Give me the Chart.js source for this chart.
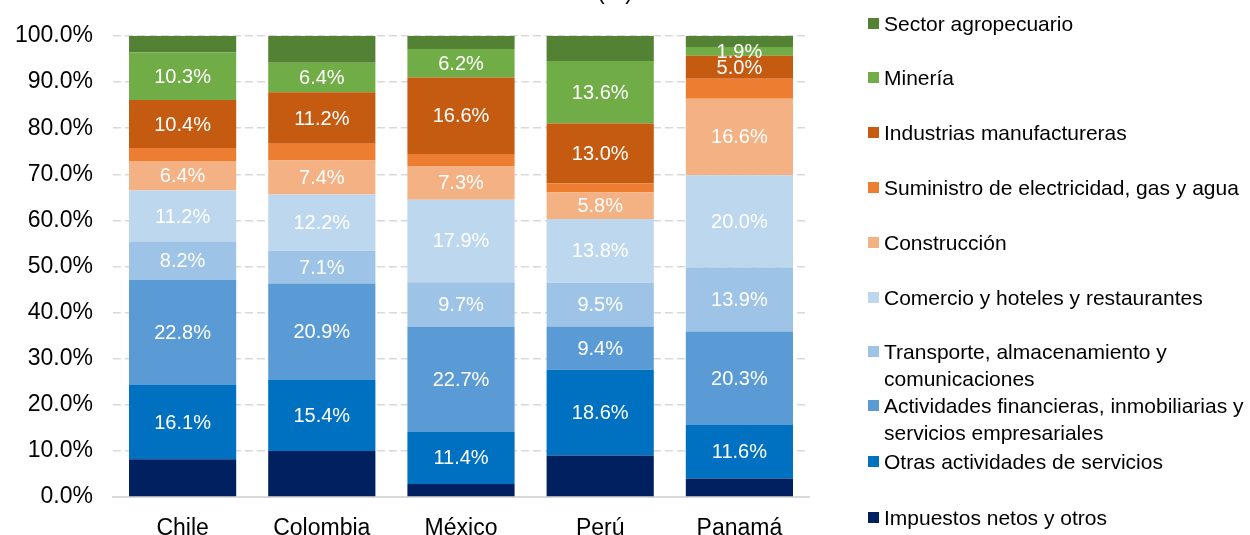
<!DOCTYPE html>
<html>
<head>
<meta charset="utf-8">
<script src="https://cdn.jsdelivr.net/npm/chart.js@4"></script>
<style>
  html, body { margin: 0; padding: 0; background: #fff; }
  #wrap { position: relative; width: 1250px; height: 535px; overflow: hidden; }
  #legend { position: absolute; left: 0; top: 0; }
  .item { position: absolute; left: 868px; font: 21px "Liberation Sans", Arial, sans-serif; color: #000; line-height: 27px; }
  .item .sw { position: absolute; left: 0; width: 11px; height: 11px; top: 8px; }
  .item .tx { position: absolute; left: 16px; white-space: nowrap; }
</style>
</head>
<body>
<div id="wrap">
  <canvas id="chart" width="1250" height="535"></canvas>
  <div id="legend"></div>
</div>
<script>
// Categories and series (share of GDP, %), bottom of the stack first
const categories = ['Chile', 'Colombia', 'México', 'Perú', 'Panamá'];

const impuestos    = [8.2, 10.0, 2.8, 9.0, 4.0];
const otrasServ    = [16.1, 15.4, 11.4, 18.6, 11.6];
const financieras  = [22.8, 20.9, 22.7, 9.4, 20.3];
const transporte   = [8.2, 7.1, 9.7, 9.5, 13.9];
const comercio     = [11.2, 12.2, 17.9, 13.8, 20.0];
const construccion = [6.4, 7.4, 7.3, 5.8, 16.6];
const suministro   = [2.8, 3.6, 2.6, 1.9, 4.3];
const manufactura  = [10.4, 11.2, 16.6, 13.0, 5.0];
const mineria      = [10.3, 6.4, 6.2, 13.6, 1.9];
const agro         = [3.6, 5.8, 2.8, 5.4, 2.4];

const yTicks = [0, 10, 20, 30, 40, 50, 60, 70, 80, 90, 100];

// Series table (stack order) — colours and whether values are labelled
const series = [
    { name: 'Impuestos netos y otros', data: impuestos, color: '#002060', label: false },
    { name: 'Otras actividades de servicios', data: otrasServ, color: '#0070C0', label: true },
    { name: 'Actividades financieras, inmobiliarias y servicios empresariales', data: financieras, color: '#5B9BD5', label: true },
    { name: 'Transporte, almacenamiento y comunicaciones', data: transporte, color: '#9DC3E6', label: true },
    { name: 'Comercio y hoteles y restaurantes', data: comercio, color: '#BDD7EE', label: true },
    { name: 'Construcción', data: construccion, color: '#F4B183', label: true },
    { name: 'Suministro de electricidad, gas y agua', data: suministro, color: '#ED7D31', label: false },
    { name: 'Industrias manufactureras', data: manufactura, color: '#C55A11', label: true },
    { name: 'Minería', data: mineria, color: '#70AD47', label: true },
    { name: 'Sector agropecuario', data: agro, color: '#548235', label: false },
];

// Legend layout (top to bottom): text-center y and wrapped lines
const legendRows = [
    { idx: 9, y: 23 },
    { idx: 8, y: 77 },
    { idx: 7, y: 132 },
    { idx: 6, y: 187 },
    { idx: 5, y: 242 },
    { idx: 4, y: 297 },
    { idx: 3, y: 351, lines: ['Transporte, almacenamiento y', 'comunicaciones'] },
    { idx: 2, y: 405, lines: ['Actividades financieras, inmobiliarias y', 'servicios empresariales'] },
    { idx: 1, y: 461 },
    { idx: 0, y: 517 },
];

const FONT = '"Liberation Sans", Arial, sans-serif';

const legendEl = document.getElementById('legend');
legendRows.forEach(row => {
    const s = series[row.idx];
    const div = document.createElement('div');
    div.className = 'item';
    div.style.top = (row.y - 13.5) + 'px';
    const sw = document.createElement('span');
    sw.className = 'sw';
    sw.style.background = s.color;
    const tx = document.createElement('span');
    tx.className = 'tx';
    tx.innerHTML = (row.lines || [s.name]).join('<br>');
    div.appendChild(sw);
    div.appendChild(tx);
    legendEl.appendChild(div);
});

// White value labels centred in each labelled segment
const segmentLabels = {
    id: 'segmentLabels',
    afterDatasetsDraw(chart) {
        const ctx = chart.ctx;
        ctx.save();
        ctx.font = '20px ' + FONT;
        ctx.fillStyle = '#fff';
        ctx.textAlign = 'center';
        ctx.textBaseline = 'middle';
        chart.data.datasets.forEach((ds, i) => {
            if (!ds.showLabel) return;
            chart.getDatasetMeta(i).data.forEach((bar, j) => {
                const y = (bar.y + bar.base) / 2;
                ctx.fillText(ds.data[j].toFixed(1) + '%', bar.x, y + 1);
            });
        });
        ctx.restore();
    },
};

// Title is clipped at the top edge; only the bottom of "(%)" shows
const clippedTitle = {
    id: 'clippedTitle',
    afterDraw(chart) {
        const ctx = chart.ctx;
        ctx.save();
        ctx.font = '23px ' + FONT;
        ctx.fillStyle = '#000';
        ctx.textAlign = 'center';
        ctx.textBaseline = 'alphabetic';
        ctx.fillText('(%)', 615, -1);
        ctx.restore();
    },
};

new Chart(document.getElementById('chart'), {
    type: 'bar',
    data: {
        labels: categories,
        datasets: series.map(s => ({
            label: s.name,
            data: s.data,
            backgroundColor: s.color,
            borderWidth: 0,
            barPercentage: 0.77,
            categoryPercentage: 1.0,
            showLabel: s.label,
        })),
    },
    options: {
        responsive: false,
        animation: false,
        layout: { padding: { top: 36, right: 441, left: 0, bottom: 0 } },
        scales: {
            x: {
                stacked: true,
                grid: { display: false },
                border: { display: true, color: '#d9d9d9', width: 2 },
                ticks: { color: '#000', font: { size: 23, family: FONT }, padding: 10 },
                afterFit(scale) { scale.height = 38; },
            },
            y: {
                stacked: true,
                min: 0,
                max: 100,
                afterBuildTicks(scale) { scale.ticks = yTicks.map(v => ({ value: v })); },
                grid: { color: '#d9d9d9', lineWidth: 1.5, drawTicks: false },
                border: { display: false, dash: [8, 4] },
                ticks: {
                    color: '#000',
                    font: { size: 23, family: FONT },
                    padding: 20,
                    callback: v => v.toFixed(1) + '%',
                },
                afterFit(scale) { scale.width = 113; },
            },
        },
        plugins: {
            legend: { display: false },
            tooltip: { enabled: false },
        },
    },
    plugins: [segmentLabels, clippedTitle],
});
</script>
</body>
</html>
